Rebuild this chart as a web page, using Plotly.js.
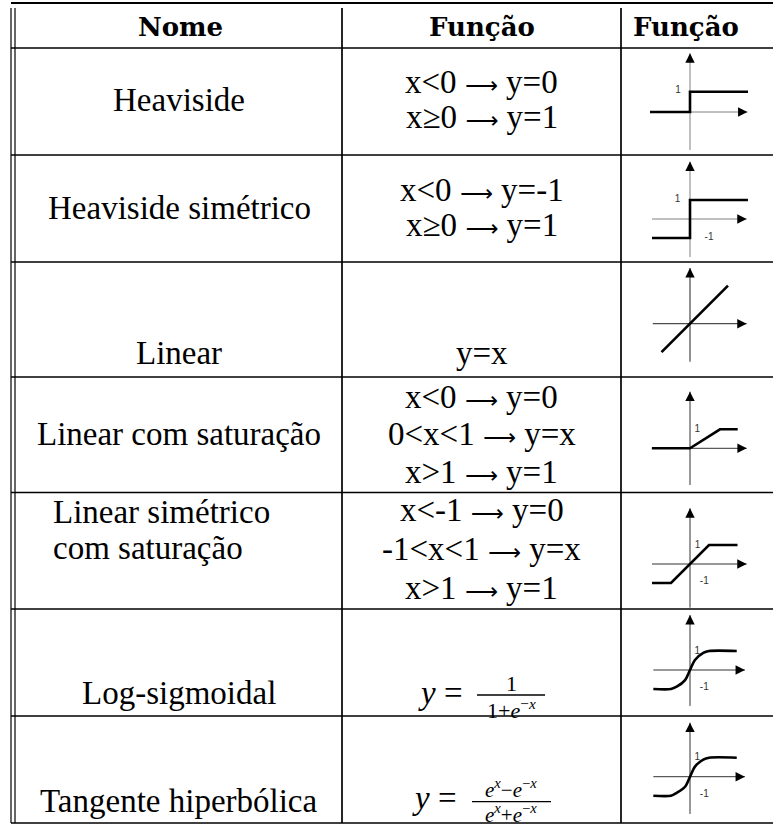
<!DOCTYPE html>
<html><head><meta charset="utf-8">
<script src="https://cdn.plot.ly/plotly-3.0.1.min.js"></script>
<style>html,body{margin:0;padding:0;background:#fff;}#chart{width:773px;height:826px;}</style>
</head><body><div id="chart"></div>
<script>
// ---------------- data ----------------
const headers = ['Nome', 'Função', 'Função'];
const names = [
  ['Heaviside'],
  ['Heaviside simétrico'],
  ['Linear'],
  ['Linear com saturação'],
  ['Linear simétrico', 'com saturação'],
  ['Log-sigmoidal'],
  ['Tangente hiperbólica']
];
const ARROW = '<span style="font-family:DejaVu Sans;font-size:23px">⟶</span>';
const rules = [
  ['x&lt;0 ' + ARROW + ' y=0', 'x≥0 ' + ARROW + ' y=1'],
  ['x&lt;0 ' + ARROW + ' y=-1', 'x≥0 ' + ARROW + ' y=1'],
  ['y=x'],
  ['x&lt;0 ' + ARROW + ' y=0', '0&lt;x&lt;1 ' + ARROW + ' y=x', 'x&gt;1 ' + ARROW + ' y=1'],
  ['x&lt;-1 ' + ARROW + ' y=0', '-1&lt;x&lt;1 ' + ARROW + ' y=x', 'x&gt;1 ' + ARROW + ' y=1'],
  [],
  []
];
const fracNum = [null, null, null, null, null,
  '1',
  '<i>e</i><sup><i>x</i></sup>−<i>e</i><sup>−<i>x</i></sup>'];
const fracDen = [null, null, null, null, null,
  '1+<i>e</i><sup>−<i>x</i></sup>',
  '<i>e</i><sup><i>x</i></sup>+<i>e</i><sup>−<i>x</i></sup>'];

// function curves, in each mini plot's own units
const heavisideX = [-2, 0, 0, 2.9];
const heavisideY = [0, 0, 1, 1];
const symHeavisideX = [-2, 0, 0, 3.05];
const symHeavisideY = [-1, -1, 1, 1];
const linearX = [-1.5, 2];
const linearY = [-1.5, 2];
const satLinearX = [-1.27, 0, 1, 1.59];
const satLinearY = [0, 0, 1, 1];
const symSatLinearX = [-2, -1, 1, 2.5];
const symSatLinearY = [-1, -1, 1, 1];
const logSigX = [-1.93, -1, -0.7, -0.26, 0, 0.26, 0.7, 1, 2.46];
const logSigY = [-1, -1, -0.88, -0.53, 0, 0.53, 0.9, 1, 1];
const tanhX = [-1.93, -1, -0.7, -0.26, 0, 0.26, 0.7, 1, 2.46];
const tanhY = [-1, -1, -0.85, -0.53, 0, 0.53, 0.9, 1, 1];

const curvesX = [heavisideX, symHeavisideX, linearX, satLinearX, symSatLinearX, logSigX, tanhX];
const curvesY = [heavisideY, symHeavisideY, linearY, satLinearY, symSatLinearY, logSigY, tanhY];
const curveShapes = ['linear', 'linear', 'linear', 'linear', 'linear', 'spline', 'spline'];

// axis extents of each mini plot: x from..to, y from..to
const axisXMin = [-2, -2, -1.96, -1.27, -2, -1.93, -1.93];
const axisXMax = [2.87, 2.98, 2.98, 1.89, 2.98, 2.89, 2.89];
const axisYMin = [-1.87, -2, -2, -1.93, -2.3, -1.89, -1.96];
const axisYMax = [2.89, 3.02, 2.93, 2.98, 2.93, 2.89, 2.84];

// tick labels of each mini plot
const tickText = [['1'], ['1', '-1'], [], ['1'], ['1', '-1'], ['1', '-1'], ['1', '-1']];
const tickX = [[-0.6], [-0.65, 1.0], [], [0.24], [0.4, 0.75], [0.38, 0.75], [0.38, 0.75]];
const tickY = [[1.05], [1.05, -0.95], [], [1.0], [0.95, -0.9], [1.0, -0.93], [1.0, -0.92]];

// ---------------- layout geometry (pixels) ----------------
const W = 773, H = 826;
const rowsPx = [[48, 155], [155, 262], [262, 377], [377, 492.5], [492.5, 609], [609, 716], [716, 823]];
const plotGeom = [
  {ox: 690, oy: 112, sx: 20, sy: 20.3, ac: '#808080'},
  {ox: 690, oy: 219, sx: 19, sy: 19, ac: '#808080'},
  {ox: 690, oy: 323.7, sx: 19, sy: 19, ac: '#222'},
  {ox: 690, oy: 448.3, sx: 30, sy: 19, ac: '#333'},
  {ox: 690, oy: 564, sx: 19, sy: 19, ac: '#333'},
  {ox: 690, oy: 670, sx: 19, sy: 19, ac: '#333'},
  {ox: 690, oy: 776.7, sx: 19, sy: 19, ac: '#333'}
];
const nameY = [[100], [208], [352.5], [434], [512, 548], [692.5], [801]];
const nameLeft = [false, false, false, false, true, false, false];
const ruleY = [[82, 117], [190, 225], [352.5], [397, 434, 471.5], [510, 549, 588], [], []];
const fracGeom = [null, null, null, null, null,
  {eqX: 440, eqY: 693, cx: 511, numY: 683, barY: 695, denY: 708.5, x0: 477, x1: 545, fs: 22},
  {eqX: 434.5, eqY: 798, cx: 511, numY: 788.5, barY: 801.7, denY: 813.5, x0: 472, x1: 551, fs: 21}];

const SERIF = 'Liberation Serif, Times New Roman, serif';
const px = v => v / W;
const py = v => 1 - v / H;

const layout = {
  width: W, height: H,
  margin: {l: 0, r: 0, t: 0, b: 0},
  paper_bgcolor: '#fff', plot_bgcolor: 'rgba(0,0,0,0)',
  showlegend: false,
  shapes: [], annotations: []
};
const data = [];

function txt(x, y, text, size, opts) {
  opts = opts || {};
  return {
    xref: 'paper', yref: 'paper', x: px(x), y: py(y),
    xanchor: opts.xanchor || 'center', yanchor: 'middle',
    showarrow: false, text: text,
    font: {family: opts.family || SERIF, size: size, color: '#000', weight: opts.weight || 'normal'}
  };
}
function hline(y, x0, x1, w) {
  layout.shapes.push({type: 'line', xref: 'paper', yref: 'paper', x0: px(x0), x1: px(x1), y0: py(y), y1: py(y), line: {color: '#000', width: w}});
}
function vline(x, y0, y1, w) {
  layout.shapes.push({type: 'line', xref: 'paper', yref: 'paper', x0: px(x), x1: px(x), y0: py(y0), y1: py(y1), line: {color: '#000', width: w}});
}

// table rules
hline(3, 11, 773, 2.2);
hline(48, 11, 773, 1.6);
rowsPx.forEach(r => hline(r[1], 11, 773, 1.6));
vline(11, 8, 823, 1.2);
vline(15, 8, 823, 1.2);
vline(342, 8, 823, 1.7);
vline(621, 8, 823, 1.7);

// headers
const headerX = [180, 481.5, 686];
headers.forEach((h, i) => layout.annotations.push(txt(headerX[i], 27, h, 26, {family: 'DejaVu Serif, serif', weight: 'bold'})));

// names and rules
names.forEach((lines, r) => {
  lines.forEach((t, k) => {
    if (nameLeft[r]) layout.annotations.push(txt(51, nameY[r][k], t, 33, {xanchor: 'left'}));
    else layout.annotations.push(txt(179, nameY[r][k], t, 33));
  });
  rules[r].forEach((t, k) => layout.annotations.push(txt(481.5, ruleY[r][k], t, 33)));
  const fg = fracGeom[r];
  if (fg) {
    layout.annotations.push(txt(fg.eqX, fg.eqY, '<i>y</i> =', 33));
    layout.annotations.push(txt(fg.cx, fg.numY, fracNum[r], fg.fs));
    layout.annotations.push(txt(fg.cx, fg.denY, fracDen[r], fg.fs));
    hline(fg.barY, fg.x0, fg.x1, 1.3);
  }
});

// mini plots
plotGeom.forEach((g, i) => {
  const n = i === 0 ? '' : String(i + 1);
  const xa = 'x' + n, ya = 'y' + n;
  const top = rowsPx[i][0], bot = rowsPx[i][1];
  const xl = 626, xr = 772;
  layout['xaxis' + n] = {domain: [px(xl), px(xr)], range: [(xl - g.ox) / g.sx, (xr - g.ox) / g.sx], visible: false, fixedrange: true, anchor: ya};
  layout['yaxis' + n] = {domain: [py(bot - 1), py(top + 1)], range: [(g.oy - (bot - 1)) / g.sy, (g.oy - (top + 1)) / g.sy], visible: false, fixedrange: true, anchor: xa};
  // axes
  data.push({type: 'scatter', mode: 'lines', xaxis: xa, yaxis: ya, hoverinfo: 'skip',
    x: [axisXMin[i], axisXMax[i], null, 0, 0],
    y: [0, 0, null, axisYMin[i], axisYMax[i]],
    line: {color: g.ac, width: 1}});
  // curve
  data.push({type: 'scatter', mode: 'lines', xaxis: xa, yaxis: ya, hoverinfo: 'skip',
    x: curvesX[i], y: curvesY[i],
    line: {color: '#000', width: 2.6, shape: curveShapes[i], smoothing: 0.9}});
  // tick labels
  if (tickText[i].length) {
    data.push({type: 'scatter', mode: 'text', xaxis: xa, yaxis: ya, hoverinfo: 'skip',
      x: tickX[i], y: tickY[i], text: tickText[i], textposition: 'middle center',
      cliponaxis: false,
      textfont: {family: 'Liberation Sans, Arial, sans-serif', size: 10, color: '#333'}});
  }
  // arrowheads
  layout.annotations.push({xref: xa, yref: ya, axref: xa, ayref: ya,
    x: axisXMax[i], y: 0, ax: axisXMax[i] - 8 / g.sx, ay: 0, text: '', showarrow: true,
    arrowhead: 2, arrowsize: 1.7, arrowwidth: 1.1, arrowcolor: '#000', standoff: 0});
  layout.annotations.push({xref: xa, yref: ya, axref: xa, ayref: ya,
    x: 0, y: axisYMax[i], ax: 0, ay: axisYMax[i] - 8 / g.sy, text: '', showarrow: true,
    arrowhead: 2, arrowsize: 1.7, arrowwidth: 1.1, arrowcolor: '#000', standoff: 0});
});

Plotly.newPlot('chart', data, layout, {staticPlot: true, displayModeBar: false});
</script>
</body></html>
